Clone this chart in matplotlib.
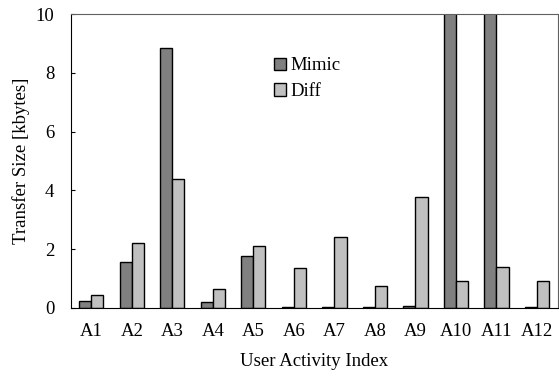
import matplotlib
matplotlib.use('Agg')
import matplotlib.pyplot as plt
import numpy as np

plt.rcParams['font.family'] = ['Liberation Serif', 'DejaVu Serif']

activities = ['A1', 'A2', 'A3', 'A4', 'A5', 'A6', 'A7', 'A8', 'A9', 'A10', 'A11', 'A12']
mimic = [0.24, 1.56, 8.86, 0.2, 1.76, 0.05, 0.05, 0.05, 0.07, 15.0, 15.0, 0.03]
diff = [0.44, 2.2, 4.38, 0.65, 2.1, 1.35, 2.42, 0.76, 3.77, 0.92, 1.38, 0.92]

x = np.arange(len(activities))
w = 0.3
fs = 13.5

fig = plt.figure(figsize=(5.59, 3.81), dpi=100)
ax = fig.add_axes([71 / 559, 1 - 308 / 381, 487 / 559, 294 / 381])

ax.bar(x - w / 2, mimic, w, color='#808080', edgecolor='black', linewidth=1, label='Mimic')
ax.bar(x + w / 2, diff, w, color='#c0c0c0', edgecolor='black', linewidth=1, label='Diff')

ax.set_xlim(-0.5, 11.52)
ax.set_ylim(0, 10)
ax.set_yticks([0, 2, 4, 6, 8, 10])
ax.set_xticks(x)
ax.set_xticklabels(activities)
ax.tick_params(axis='y', direction='in', length=3, labelsize=fs, pad=12)
ax.tick_params(axis='x', length=0, labelsize=fs, pad=11)

ax.spines['top'].set_color('#606060')
ax.spines['right'].set_color('#606060')

ax.set_xlabel('User Activity Index', fontsize=fs, labelpad=9)
ax.set_ylabel('Transfer Size [kbytes]', fontsize=fs, labelpad=4)

ax.legend(loc='center left', bbox_to_anchor=(0.417, 0.78), frameon=False, fontsize=fs,
          borderpad=0, borderaxespad=0,
          handlelength=0.65, handleheight=0.65, handletextpad=0.2, labelspacing=0.45)

fig.savefig('out.png', dpi=100)
